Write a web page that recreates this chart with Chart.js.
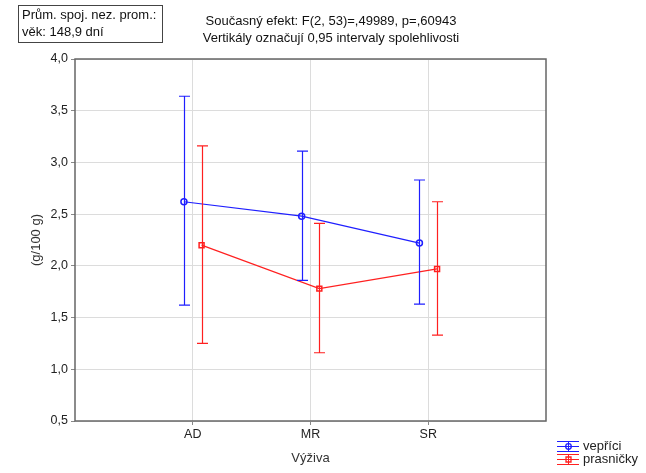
<!DOCTYPE html>
<html>
<head>
<meta charset="utf-8">
<script src="https://cdn.jsdelivr.net/npm/chart.js@4/dist/chart.umd.min.js"></script>
<style>
  html, body { margin: 0; padding: 0; background: #fff; }
  canvas { display: block; }
</style>
</head>
<body>
<canvas id="chart" width="646" height="473"></canvas>
<script>
"use strict";
// data
const categories = ['AD', 'MR', 'SR'];
const vepriciMean = [2.62, 2.48, 2.22];
const vepriciLow = [1.62, 1.86, 1.63];
const vepriciHigh = [3.64, 3.11, 2.83];
const prasnickyMean = [2.20, 1.78, 1.97];
const prasnickyLow = [1.25, 1.16, 1.33];
const prasnickyHigh = [3.16, 2.41, 2.62];
const seriesNames = ['vepříci', 'prasničky'];
const yMin = 0.5, yMax = 4.0, yStep = 0.5;

const FONT = '"Liberation Sans", Arial, sans-serif';
const BLUE = '#1f1fff', RED = '#ff2020';
const shift = 0.075;

function points(vals, off) {
  return vals.map(function (v, i) { return { x: i + 1 + off, y: v }; });
}

var errorBars = {
  id: 'errorBars',
  afterDatasetsDraw: function (chart) {
    var ctx = chart.ctx, xs = chart.scales.x, ys = chart.scales.y;
    var bars = [[vepriciLow, vepriciHigh], [prasnickyLow, prasnickyHigh]];
    chart.data.datasets.forEach(function (ds, d) {
      ctx.save();
      ctx.strokeStyle = ds.borderColor;
      ctx.lineWidth = 1.2;
      ds.data.forEach(function (p, i) {
        var x = Math.round(xs.getPixelForValue(p.x)) + 0.5;
        var t = ys.getPixelForValue(bars[d][1][i]);
        var b = ys.getPixelForValue(bars[d][0][i]);
        ctx.beginPath();
        ctx.moveTo(x, t); ctx.lineTo(x, b);
        ctx.moveTo(x - 5.5, t); ctx.lineTo(x + 5.5, t);
        ctx.moveTo(x - 5.5, b); ctx.lineTo(x + 5.5, b);
        ctx.stroke();
      });
      ctx.restore();
    });
  }
};

var decorations = {
  id: 'decorations',
  afterDraw: function (chart) {
    var ctx = chart.ctx, a = chart.chartArea;
    ctx.save();
    // plot frame
    ctx.strokeStyle = '#666';
    ctx.lineWidth = 1.5;
    ctx.strokeRect(a.left, a.top, a.right - a.left, a.bottom - a.top);

    // info box
    ctx.lineWidth = 1;
    ctx.strokeStyle = '#444';
    ctx.strokeRect(18.5, 5.5, 144, 37);
    ctx.fillStyle = '#111';
    ctx.font = '13px ' + FONT;
    ctx.textBaseline = 'middle';
    ctx.textAlign = 'left';
    ctx.fillText('Prům. spoj. nez. prom.:', 22, 15);
    ctx.fillText('věk: 148,9 dní', 22, 32);

    // title
    ctx.textAlign = 'center';
    ctx.fillText('Současný efekt: F(2, 53)=,49989, p=,60943', 331, 21);
    ctx.fillText('Vertikály označují 0,95 intervaly spolehlivosti', 331, 38);

    // axis titles
    ctx.fillStyle = '#333';
    ctx.fillText('Výživa', (a.left + a.right) / 2, 458);
    ctx.save();
    ctx.translate(36, (a.top + a.bottom) / 2);
    ctx.rotate(-Math.PI / 2);
    ctx.fillText('(g/100 g)', 0, 0);
    ctx.restore();

    // legend
    var rows = [[BLUE, 'circle', 446], [RED, 'rect', 459]];
    rows.forEach(function (r, i) {
      var cx = 568, cy = r[2];
      ctx.strokeStyle = r[0];
      ctx.lineWidth = 1;
      ctx.beginPath();
      ctx.moveTo(557, cy - 4.5); ctx.lineTo(579, cy - 4.5);
      ctx.moveTo(557, cy + 0.5); ctx.lineTo(579, cy + 0.5);
      ctx.moveTo(557, cy + 5.5); ctx.lineTo(579, cy + 5.5);
      ctx.moveTo(cx + 0.5, cy - 4.5); ctx.lineTo(cx + 0.5, cy + 5.5);
      ctx.stroke();
      ctx.lineWidth = 1.3;
      ctx.beginPath();
      if (r[1] === 'circle') ctx.arc(cx + 0.5, cy + 0.5, 2.8, 0, Math.PI * 2);
      else ctx.rect(cx - 2, cy - 2, 5, 5);
      ctx.stroke();
      ctx.fillStyle = '#222';
      ctx.textAlign = 'left';
      ctx.fillText(seriesNames[i], 583, cy);
    });
    ctx.restore();
  }
};

new Chart(document.getElementById('chart').getContext('2d'), {
  type: 'line',
  data: {
    datasets: [
      {
        label: seriesNames[0],
        data: points(vepriciMean, -shift),
        borderColor: BLUE,
        backgroundColor: 'rgba(0,0,0,0)',
        borderWidth: 1.2,
        pointStyle: 'circle',
        pointRadius: 3,
        pointBorderWidth: 1.5,
        tension: 0
      },
      {
        label: seriesNames[1],
        data: points(prasnickyMean, shift),
        borderColor: RED,
        backgroundColor: 'rgba(0,0,0,0)',
        borderWidth: 1.2,
        pointStyle: 'rect',
        pointRadius: 3.5,
        pointBorderWidth: 1.5,
        tension: 0
      }
    ]
  },
  options: {
    responsive: false,
    animation: false,
    layout: { padding: { top: 59, right: 100, left: 0, bottom: 0 } },
    plugins: { legend: { display: false }, tooltip: { enabled: false } },
    scales: {
      x: {
        type: 'linear',
        min: 0,
        max: categories.length + 1,
        afterFit: function (s) { s.height = 52; },
        afterBuildTicks: function (s) {
          s.ticks = categories.map(function (c, i) { return { value: i + 1 }; });
        },
        ticks: {
          autoSkip: false,
          maxRotation: 0,
          padding: 2,
          color: '#222',
          font: { family: FONT, size: 12.5 },
          callback: function (v) { return categories[v - 1] || ''; }
        },
        grid: { color: '#dcdcdc', tickColor: '#888', tickLength: 4, lineWidth: 1 },
        border: { display: false }
      },
      y: {
        min: yMin,
        max: yMax,
        afterFit: function (s) { s.width = 75; },
        ticks: {
          stepSize: yStep,
          padding: 3,
          color: '#222',
          font: { family: FONT, size: 12.5 },
          callback: function (v) { return v.toFixed(1).replace('.', ','); }
        },
        grid: { color: '#dcdcdc', tickColor: '#888', tickLength: 4, lineWidth: 1 },
        border: { display: false }
      }
    }
  },
  plugins: [errorBars, decorations]
});
</script>
</body>
</html>
